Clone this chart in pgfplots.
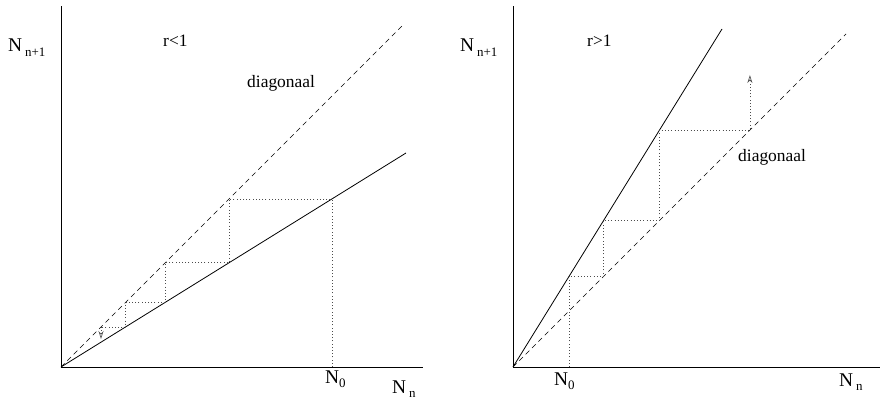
\documentclass[border=0pt]{standalone}
\usepackage{fontspec}
\setmainfont{Liberation Serif}
\usepackage{pgfplots}
\pgfplotsset{compat=1.18}
\usetikzlibrary{arrows.meta}

% label helpers
\newcommand{\lbl}{\fontsize{17.5}{20}\selectfont}
\newcommand{\NN}{{\fontsize{19.5}{22}\selectfont N}}
\newcommand{\sub}[1]{\raisebox{-4.5bp}{\fontsize{13}{15}\selectfont #1}}

\pgfplotsset{
  cobweb/.style={
    scale only axis, height=361bp,
    xmin=0, ymin=0, ymax=361,
    axis x line=bottom, axis y line=left,
    axis line style={-, line width=0.9bp},
    xtick=\empty, ytick=\empty,
    clip=false,
    every axis plot/.append style={line width=0.8bp, mark=none},
  },
  diag/.style={black, dash pattern=on 5bp off 4bp, line width=0.7bp},
  steps/.style={black!70, dash pattern=on 1bp off 2.2bp, line width=0.7bp},
  tip/.style={-{Stealth[open, length=8bp, width=5bp, line width=0.6bp]}},
}

\begin{document}
\begin{tikzpicture}
\path[use as bounding box] (-61bp,-34bp) rectangle (819bp,367bp);

% ---------- r < 1 : decay towards zero ----------
\begin{axis}[cobweb, width=362bp, xmax=362, at={(0,0)}, anchor=south west]
  \addplot[black] coordinates {(0,0) (345,214)};
  \addplot[diag] coordinates {(0,0) (342,342)};
  \addplot[steps] coordinates {
    (271,0) (271,168) (168,168) (168,104.2) (104.2,104.2)
    (104.2,64.6) (64.6,64.6) (64.6,40) (40,40)};
  \addplot[steps, tip] coordinates {(40,40) (40,28)};
  \node[anchor=base west, inner sep=0, font=\lbl] at (axis cs:-53,315) {\NN\,\sub{n+1}};
  \node[anchor=base west, inner sep=0, font=\lbl] at (axis cs:102,320) {r<1};
  \node[anchor=base west, inner sep=0, font=\lbl] at (axis cs:186,279) {diagonaal};
  \node[anchor=base west, inner sep=0, font=\lbl] at (axis cs:264,-16) {\NN\sub{0}};
  \node[anchor=base west, inner sep=0, font=\lbl] at (axis cs:331,-26) {\NN\,\sub{n}};
\end{axis}

% ---------- r > 1 : growth ----------
\begin{axis}[cobweb, width=367bp, xmax=367, at={(452bp,0)}, anchor=south west]
  \addplot[black] coordinates {(0,0) (209,338)};
  \addplot[diag] coordinates {(0,0) (333,333)};
  \addplot[steps] coordinates {
    (56,0) (56,90.6) (90.6,90.6) (90.6,146.5) (146.5,146.5)
    (146.5,236.9) (236.9,236.9) (236.9,260)};
  \addplot[steps, tip] coordinates {(236.9,260) (236.9,292)};
  \node[anchor=base west, inner sep=0, font=\lbl] at (axis cs:-53,315) {\NN\,\sub{n+1}};
  \node[anchor=base west, inner sep=0, font=\lbl] at (axis cs:74,320) {r>1};
  \node[anchor=base west, inner sep=0, font=\lbl] at (axis cs:225,205) {diagonaal};
  \node[anchor=base west, inner sep=0, font=\lbl] at (axis cs:41,-18) {\NN\sub{0}};
  \node[anchor=base west, inner sep=0, font=\lbl] at (axis cs:326,-19) {\NN\,\sub{n}};
\end{axis}
\end{tikzpicture}
\end{document}
